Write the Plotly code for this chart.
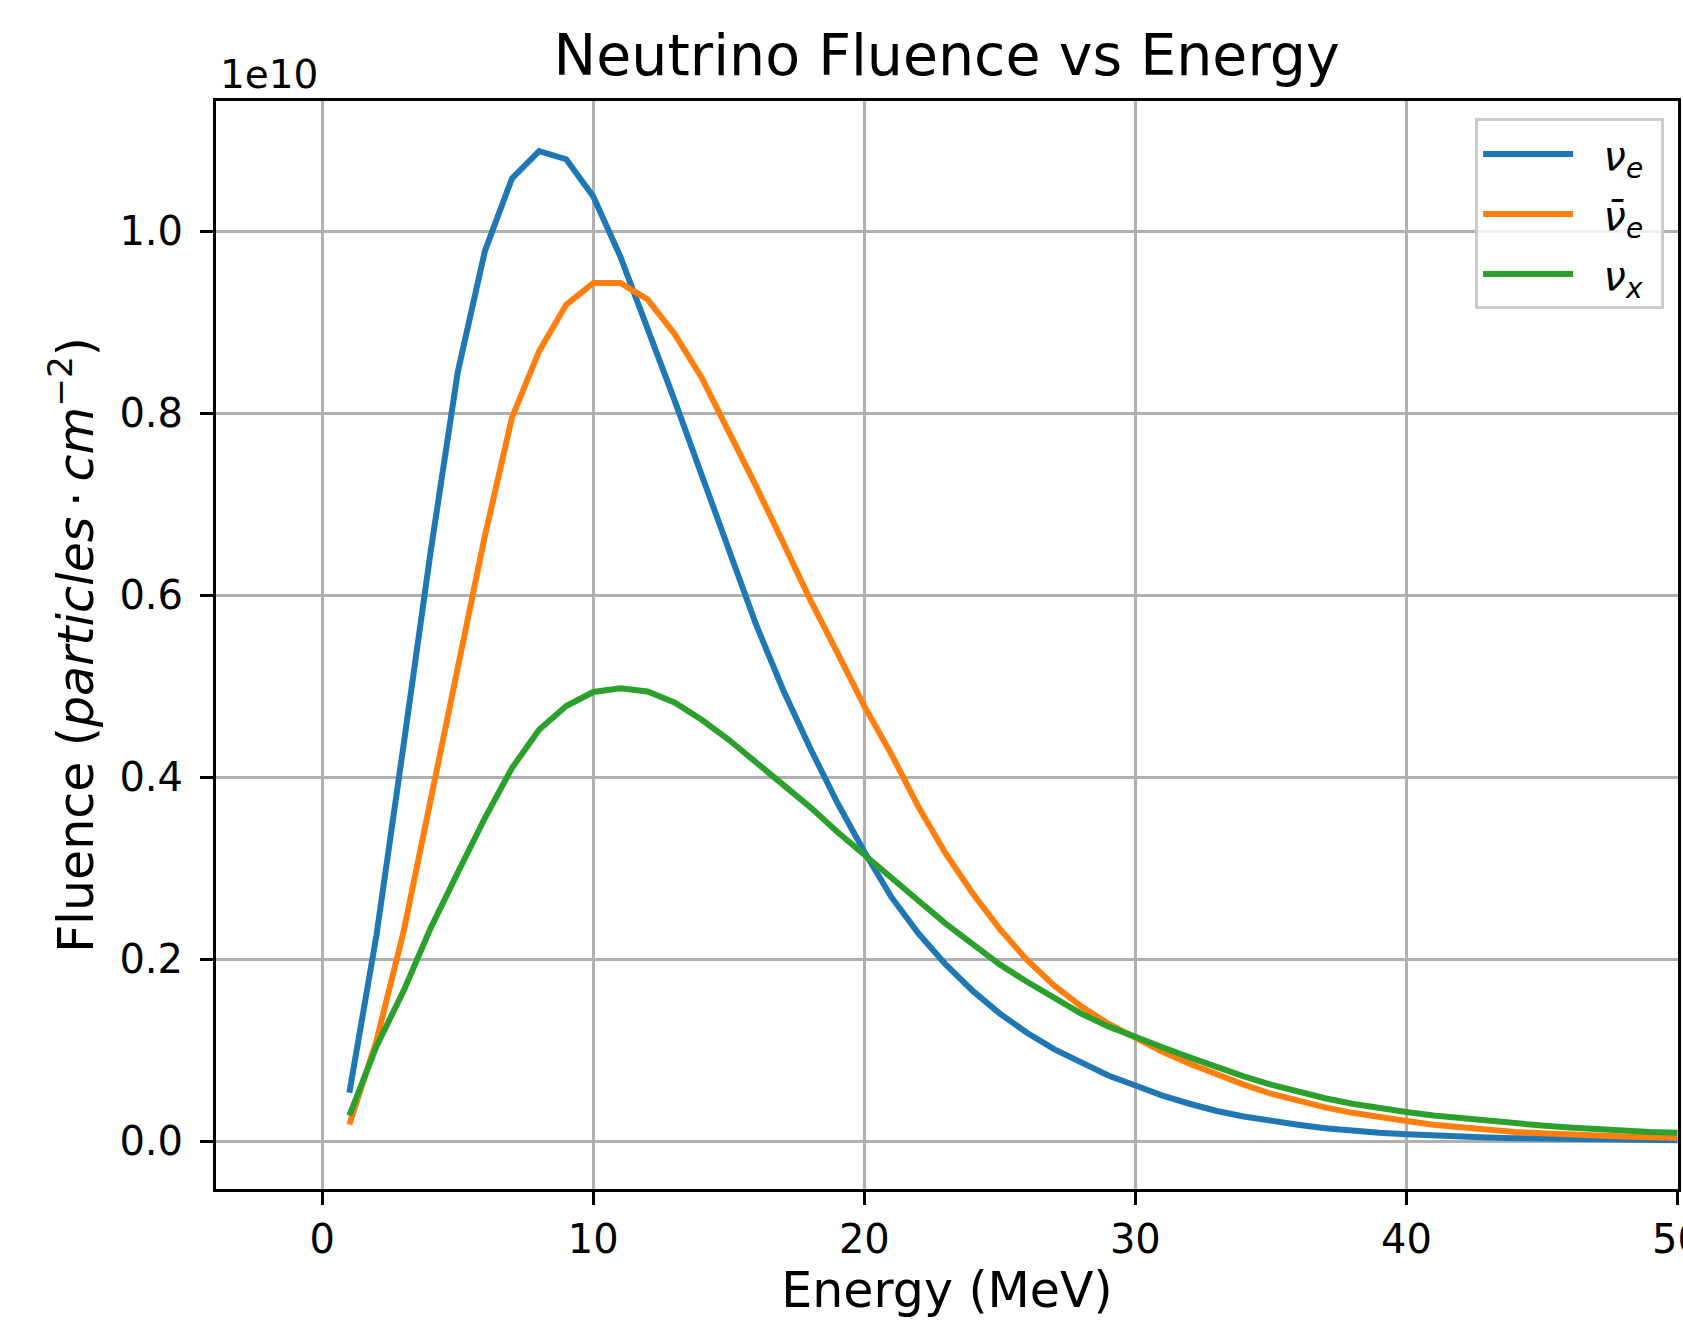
import plotly.graph_objects as go

energy = list(range(1, 51))

nu_e = [0.053, 0.226, 0.435, 0.648, 0.845, 0.978, 1.058, 1.088, 1.079, 1.038,
        0.972, 0.895, 0.814, 0.732, 0.648, 0.568, 0.496, 0.432, 0.372, 0.318,
        0.268, 0.228, 0.194, 0.165, 0.14, 0.119, 0.101, 0.086, 0.072, 0.061,
        0.05, 0.041, 0.033, 0.027, 0.022, 0.018, 0.014, 0.011, 0.009, 0.0075,
        0.006, 0.005, 0.004, 0.0032, 0.0026, 0.002, 0.0016, 0.0013, 0.001, 0.0008]

nu_e_bar = [0.018, 0.11, 0.23, 0.378, 0.52, 0.665, 0.795, 0.868, 0.919, 0.943,
            0.943, 0.925, 0.887, 0.839, 0.78, 0.72, 0.658, 0.595, 0.537, 0.478,
            0.425, 0.367, 0.316, 0.272, 0.233, 0.199, 0.171, 0.148, 0.129, 0.113,
            0.098, 0.085, 0.073, 0.062, 0.052, 0.044, 0.037, 0.031, 0.026, 0.022,
            0.018, 0.015, 0.012, 0.01, 0.0085, 0.007, 0.006, 0.005, 0.0042, 0.0035]

nu_x = [0.028, 0.104, 0.165, 0.234, 0.295, 0.355, 0.41, 0.452, 0.478, 0.4935,
        0.4975, 0.494, 0.482, 0.463, 0.441, 0.417, 0.393, 0.367, 0.34, 0.314,
        0.29, 0.264, 0.239, 0.216, 0.194, 0.175, 0.157, 0.14, 0.126, 0.114,
        0.103, 0.092, 0.081, 0.071, 0.062, 0.054, 0.047, 0.041, 0.036, 0.032,
        0.028, 0.025, 0.022, 0.019, 0.017, 0.015, 0.013, 0.011, 0.01, 0.009]

SCALE = 1e10
x_ticks = [0, 10, 20, 30, 40, 50]
y_tick_values = [0.0, 0.2, 0.4, 0.6, 0.8, 1.0]
y_tick_labels = ["0.0", "0.2", "0.4", "0.6", "0.8", "1.0"]

series = [
    ("\u00a0\u00a0<i>ν<sub>e</sub></i>\u00a0", nu_e, "#1f77b4"),
    ("\u00a0\u00a0<i>ν\u0304<sub>e</sub></i>\u00a0", nu_e_bar, "#ff7f0e"),
    ("\u00a0\u00a0<i>ν<sub>x</sub></i>\u00a0", nu_x, "#2ca02c"),
]

FONT = "DejaVu Sans"
fig = go.Figure()
for i, (name, vals, color) in enumerate(series):
    fig.add_trace(go.Scatter(
        x=energy, y=[v * SCALE for v in vals], mode="lines", name=name,
        legendgroup=f"g{i}",
        line=dict(color=color, width=6),
    ))

fig.update_layout(
    width=1683, height=1323,
    margin=dict(l=216, r=5, t=101, b=134, autoexpand=False),
    paper_bgcolor="white", plot_bgcolor="white",
    font=dict(family=FONT, color="black", size=40),
    title=dict(text="Neutrino Fluence vs Energy", x=0.5625, xanchor="center",
               y=1 - 55 / 1323, yanchor="middle",
               font=dict(size=57, family=FONT, color="black")),
    showlegend=True,
    legend=dict(x=0.9905, xanchor="right", y=0.984, yanchor="top",
                bgcolor="rgba(255,255,255,0.8)", bordercolor="#cccccc",
                borderwidth=3, font=dict(size=40, family=FONT),
                itemwidth=90, tracegroupgap=5),
)

fig.update_xaxes(
    range=[-3.92, 50.02], tickvals=x_ticks, ticktext=[str(t) for t in x_ticks],
    automargin=False,
    showgrid=True, gridcolor="#b0b0b0", gridwidth=3,
    showline=True, linecolor="black", linewidth=3, mirror=True,
    ticks="outside", ticklen=13, tickwidth=3, tickcolor="black",
    ticklabeloverflow="allow",
    zeroline=False, tickfont=dict(size=40, family=FONT),
    title=dict(text="Energy (MeV)", font=dict(size=49, family=FONT), standoff=12),
)
fig.update_yaxes(
    range=[-0.0527 * SCALE, 1.143 * SCALE],
    tickvals=[v * SCALE for v in y_tick_values], ticktext=y_tick_labels,
    automargin=False,
    showgrid=True, gridcolor="#b0b0b0", gridwidth=3,
    showline=True, linecolor="black", linewidth=3, mirror=True,
    ticks="outside", ticklen=13, tickwidth=3, tickcolor="black",
    ticklabelstandoff=9,
    zeroline=False, tickfont=dict(size=40, family=FONT),
    title=dict(text="Fluence (<i>particles</i>\u2009·\u2009<i>cm</i><sup>−2</sup>)",
               font=dict(size=49, family=FONT), standoff=11),
)

fig.add_annotation(text="1e10", xref="paper", yref="paper", x=0, y=1,
                   xanchor="left", yanchor="bottom", showarrow=False,
                   xshift=2, yshift=2, font=dict(size=39, family=FONT))

fig.write_html("out.html",
               config={"displayModeBar": False},
               post_script="document.body.style.margin='0';"
                           "document.body.style.overflow='hidden';")
